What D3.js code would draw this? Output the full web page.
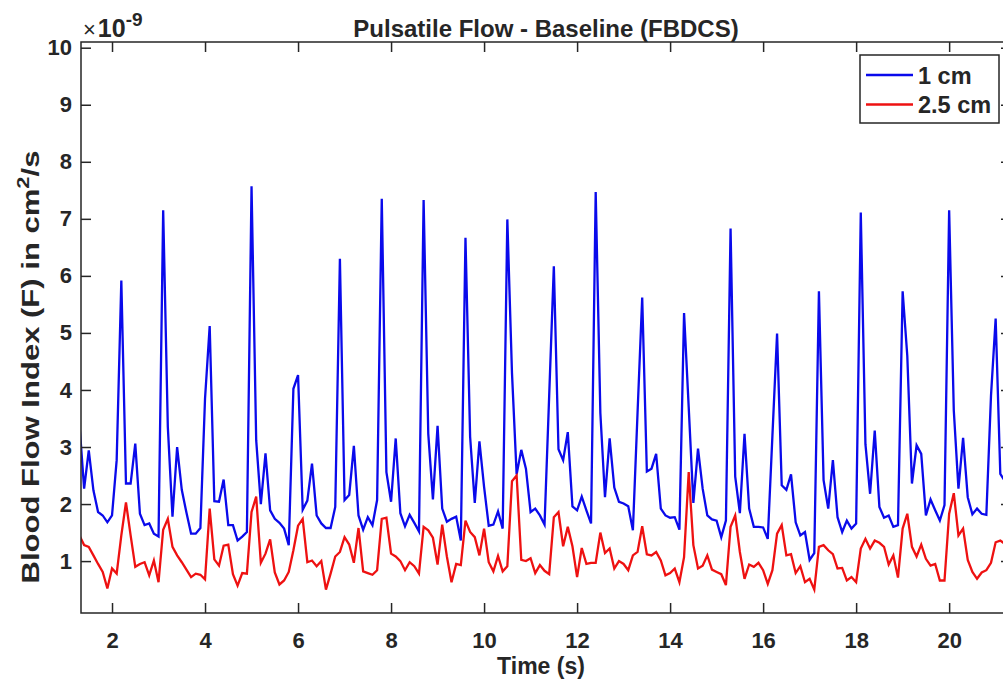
<!DOCTYPE html>
<html><head><meta charset="utf-8">
<script src="https://cdn.jsdelivr.net/npm/d3@7"></script>
<style>
body{margin:0;background:#fff}
text{font-family:"Liberation Sans",Arial,Helvetica,sans-serif;font-weight:bold;fill:#262626}
</style>
</head><body>
<svg id="c" width="1003" height="681"></svg>
<script>
// ---- data (values in units of 1e-9 cm^2/s), sampled every 0.1 s starting at t = 1.3 s ----
const startTime = 1.3;
const sampleStep = 0.1;
const seriesNames = ["1 cm", "2.5 cm"];
const blue1cm = [
  3.4, 2.27, 2.94, 2.24, 1.86, 1.80, 1.68, 1.80, 2.77, 5.92,
  2.36, 2.36, 3.06, 1.83, 1.63, 1.66, 1.48, 1.43, 7.15, 3.35,
  1.78, 3.00, 2.25, 1.85, 1.48, 1.48, 1.58, 3.85, 5.12, 2.05,
  2.04, 2.43, 1.63, 1.63, 1.36, 1.43, 1.51, 7.57, 3.12, 2.00,
  2.89, 1.89, 1.74, 1.67, 1.57, 1.28, 4.02, 4.26, 1.90, 2.06,
  2.71, 1.80, 1.66, 1.58, 1.58, 1.95, 6.30, 2.07, 2.16, 3.02,
  1.80, 1.55, 1.77, 1.63, 2.07, 7.35, 2.56, 2.04, 3.15, 1.84,
  1.61, 1.81, 1.67, 1.52, 7.33, 3.23, 2.08, 3.37, 1.92, 1.69,
  1.74, 1.78, 1.36, 6.67, 3.18, 2.02, 3.10, 2.30, 1.62, 1.64,
  1.87, 1.57, 6.99, 4.3, 2.52, 2.95, 2.62, 1.86, 1.92, 1.80,
  1.64, 3.9, 6.17, 2.96, 2.77, 3.26, 1.96, 1.89, 2.13, 1.89,
  1.66, 7.47, 3.6, 2.12, 3.15, 2.29, 2.04, 2.01, 1.96, 1.54,
  3.6, 5.62, 2.57, 2.62, 2.88, 1.92, 1.80, 1.76, 1.77, 1.55,
  5.35, 3.7, 2.02, 2.97, 2.27, 1.80, 1.73, 1.71, 1.42, 1.71,
  6.83, 2.48, 1.84, 3.23, 1.92, 1.60, 1.60, 1.59, 1.39, 3.2,
  4.99, 2.33, 2.25, 2.52, 1.68, 1.45, 1.51, 1.02, 1.14, 5.73,
  2.42, 1.92, 2.77, 1.77, 1.51, 1.71, 1.57, 1.66, 7.11, 3.05,
  2.18, 3.29, 1.95, 1.76, 1.80, 1.60, 1.63, 5.73, 4.6, 2.36,
  3.03, 2.88, 1.80, 2.08, 1.89, 1.71, 1.98, 7.15, 3.64, 2.27,
  3.16, 2.12, 1.82, 1.92, 1.83, 1.81, 3.9, 5.25, 2.53, 2.4
];
const red25cm = [
  1.45, 1.28, 1.25, 1.10, 0.95, 0.81, 0.52, 0.87, 0.78, 1.45,
  2.03, 1.45, 0.90, 0.95, 0.98, 0.75, 1.01, 0.63, 1.55, 1.74,
  1.25, 1.10, 0.98, 0.85, 0.72, 0.78, 0.76, 0.68, 1.92, 1.03,
  0.92, 1.27, 1.29, 0.77, 0.57, 0.79, 0.78, 1.86, 2.13, 0.97,
  1.13, 1.38, 0.80, 0.59, 0.66, 0.81, 1.19, 1.62, 1.74, 0.98,
  1.01, 0.91, 1.00, 0.50, 0.78, 1.08, 1.16, 1.42, 1.29, 0.97,
  1.58, 0.82, 0.79, 0.76, 0.84, 1.74, 1.76, 1.13, 1.08, 1.00,
  0.84, 0.98, 0.91, 0.78, 1.60, 1.54, 1.41, 0.94, 1.64, 1.08,
  0.63, 0.95, 0.93, 1.71, 1.51, 1.42, 1.10, 1.57, 0.98, 0.82,
  1.09, 0.82, 0.91, 2.40, 2.50, 1.02, 1.00, 1.05, 0.79, 0.93,
  0.83, 0.77, 1.77, 1.86, 1.26, 1.60, 1.26, 0.72, 1.23, 0.95,
  0.97, 0.97, 1.50, 1.14, 1.22, 0.87, 1.00, 0.95, 0.84, 1.10,
  1.16, 1.61, 1.12, 1.10, 1.16, 1.01, 0.75, 0.79, 0.87, 0.63,
  1.07, 2.56, 1.28, 0.87, 0.92, 1.10, 0.85, 0.81, 0.77, 0.58,
  1.60, 1.80, 1.16, 0.69, 0.94, 0.90, 0.97, 0.84, 0.60, 0.84,
  1.48, 1.63, 1.10, 1.12, 0.79, 0.91, 0.63, 0.69, 0.50, 1.25,
  1.28, 1.19, 1.12, 0.87, 0.88, 0.66, 0.72, 0.63, 1.22, 1.39,
  1.22, 1.36, 1.32, 1.25, 0.94, 1.10, 0.71, 1.57, 1.83, 1.25,
  1.08, 1.29, 1.04, 0.92, 0.95, 0.66, 0.66, 1.83, 2.19, 1.45,
  1.57, 1.02, 0.81, 0.69, 0.80, 0.84, 0.97, 1.33, 1.36, 1.30
];
const xTickValues = [2, 4, 6, 8, 10, 12, 14, 16, 18, 20];
const yTickValues = [1, 2, 3, 4, 5, 6, 7, 8, 9, 10];
const xDomain = [1.333, 21.33];
const yDomain = [0.09, 10.1];

// ---- layout ----
const L = 81, R = 1011, T = 42, B = 613;
const svg = d3.select("#c");
const x = d3.scaleLinear().domain(xDomain).range([L, R]);
const y = d3.scaleLinear().domain(yDomain).range([B, T]);
const axisColor = "#262626";

svg.append("rect").attr("width", 1003).attr("height", 681).attr("fill", "#fff");

svg.append("defs").append("clipPath").attr("id", "clip")
  .append("rect").attr("x", L).attr("y", T).attr("width", R - L).attr("height", B - T);

const mk = arr => arr.map((v, i) => ({t: startTime + i * sampleStep, v}));
const line = d3.line().x(d => x(d.t)).y(d => y(d.v));
const series = [
  {name: seriesNames[0], color: "#0a0aeb", data: mk(blue1cm)},
  {name: seriesNames[1], color: "#ee1111", data: mk(red25cm)}
];
const g = svg.append("g").attr("clip-path", "url(#clip)");
series.forEach(s => {
  g.append("path").datum(s.data).attr("d", line)
    .attr("fill", "none").attr("stroke", s.color).attr("stroke-width", 2.3)
    .attr("stroke-linejoin", "miter");
});

function styleAxis(sel) {
  sel.select(".domain").remove();
  sel.selectAll(".tick line").attr("stroke", axisColor).attr("stroke-width", 1.5);
  sel.selectAll(".tick text").attr("fill", axisColor).style("font-size", "22px").style("font-weight", "bold")
    .style("font-family", '"Liberation Sans", Arial, sans-serif');
}
svg.append("g").attr("transform", `translate(0,${B})`)
  .call(d3.axisBottom(x).tickValues(xTickValues).tickSize(-10).tickPadding(19).tickFormat(d3.format("d")))
  .call(styleAxis);
svg.append("g").attr("transform", `translate(0,${T})`)
  .call(d3.axisTop(x).tickValues(xTickValues).tickSize(-10).tickFormat(""))
  .call(styleAxis);
svg.append("g").attr("transform", `translate(${L},0)`)
  .call(d3.axisLeft(y).tickValues(yTickValues).tickSize(-10).tickPadding(9).tickFormat(d3.format("d")))
  .call(styleAxis);
svg.append("g").attr("transform", `translate(${R},0)`)
  .call(d3.axisRight(y).tickValues(yTickValues).tickSize(-10).tickFormat(""))
  .call(styleAxis);

svg.append("rect").attr("x", L).attr("y", T).attr("width", R - L).attr("height", B - T)
  .attr("fill", "none").attr("stroke", axisColor).attr("stroke-width", 1.5);

// exponent
const ex = svg.append("text").attr("x", 83).attr("y", 37).style("font-size", "25px");
ex.append("tspan").text("×").style("font-weight", "normal").style("font-size", "22px");
ex.append("tspan").text("10").attr("dx", 2);
ex.append("tspan").text("-9").attr("dy", -11).style("font-size", "19px");

// title
svg.append("text").attr("x", 546).attr("y", 37).attr("text-anchor", "middle")
  .style("font-size", "24px").text("Pulsatile Flow - Baseline (FBDCS)");

// x label
svg.append("text").attr("x", 541).attr("y", 674).attr("text-anchor", "middle")
  .style("font-size", "23px").text("Time (s)");

// y label
const yl = svg.append("text").attr("transform", "translate(39,367) rotate(-90)")
  .attr("text-anchor", "middle").style("font-size", "24px")
  .attr("textLength", 433).attr("lengthAdjust", "spacingAndGlyphs");
yl.append("tspan").text("Blood Flow Index (F) in cm");
yl.append("tspan").text("2").attr("dy", -10).style("font-size", "17px");
yl.append("tspan").text("/s").attr("dy", 10);

// legend
const lg = svg.append("g");
lg.append("rect").attr("x", 860).attr("y", 55).attr("width", 139).attr("height", 68)
  .attr("fill", "#fff").attr("stroke", axisColor).attr("stroke-width", 1.5);
series.forEach((s, i) => {
  const yy = 75 + i * 29.5;
  lg.append("line").attr("x1", 866).attr("x2", 913).attr("y1", yy).attr("y2", yy)
    .attr("stroke", s.color).attr("stroke-width", 2.3);
  lg.append("text").attr("x", 918).attr("y", yy + 8.5).style("font-size", "23.5px").text(s.name);
});
</script>
</body></html>
